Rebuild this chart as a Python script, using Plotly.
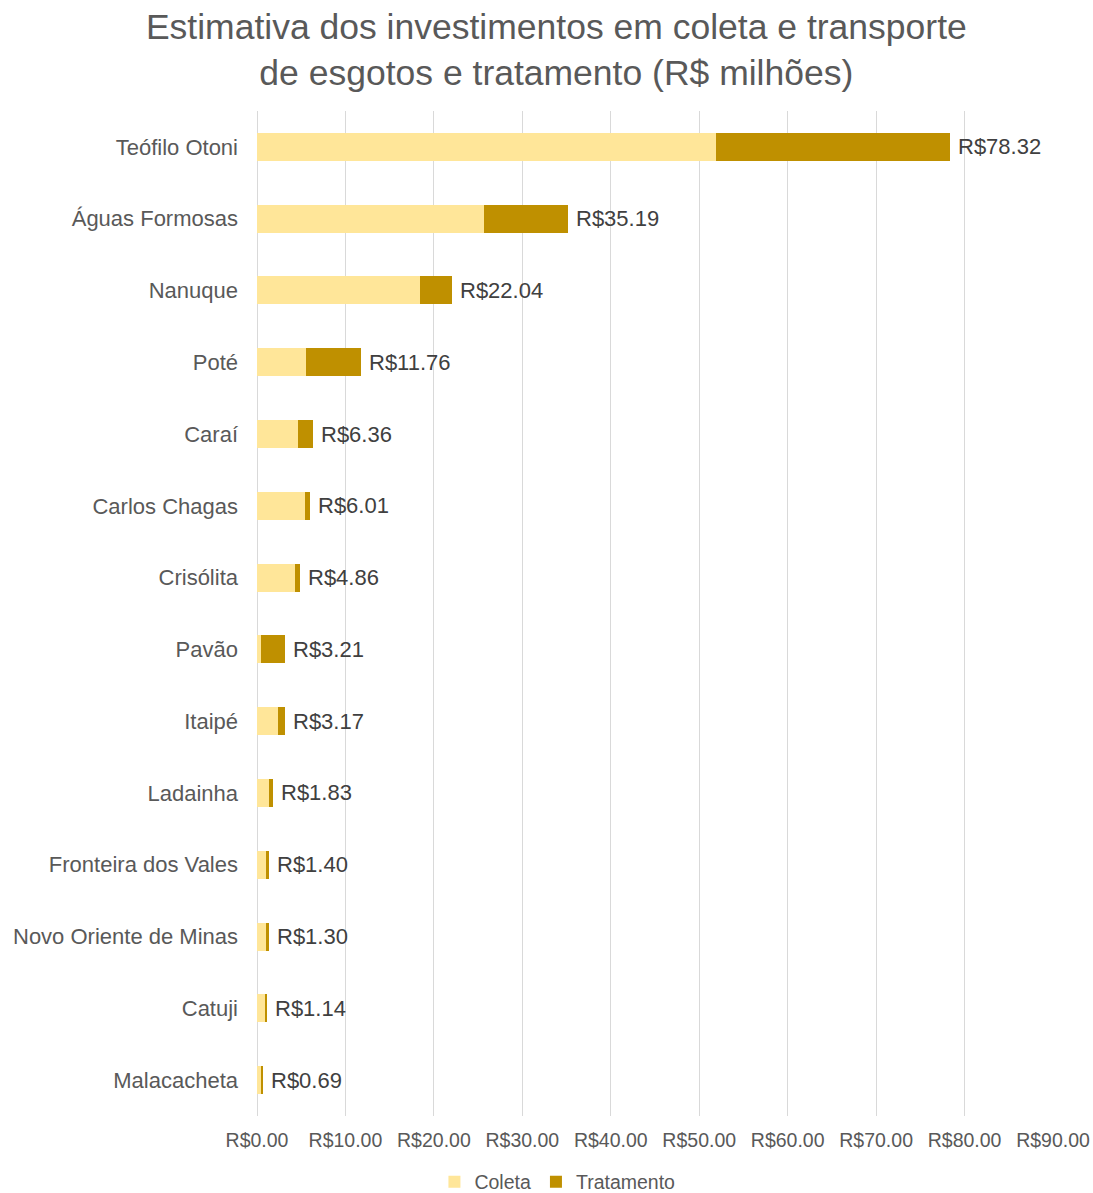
import plotly.graph_objects as go

# Municipalities and investment estimates (R$ millions)
municipios = [
    "Teófilo Otoni", "Águas Formosas", "Nanuque", "Poté", "Caraí",
    "Carlos Chagas", "Crisólita", "Pavão", "Itaipé", "Ladainha",
    "Fronteira dos Vales", "Novo Oriente de Minas", "Catuji", "Malacacheta",
]
coleta = [51.90, 25.65, 18.48, 5.55, 4.64, 5.40, 4.30, 0.42, 2.34, 1.32, 0.98, 1.10, 0.87, 0.44]
total = [78.32, 35.19, 22.04, 11.76, 6.36, 6.01, 4.86, 3.21, 3.17, 1.83, 1.40, 1.30, 1.14, 0.69]
tratamento = [round(t - c, 2) for t, c in zip(total, coleta)]

x_ticks = [0, 10, 20, 30, 40, 50, 60, 70, 80, 90]
x_ticktext = [f"R${v:.2f}" for v in x_ticks]

FONT = "Liberation Sans, Arial, sans-serif"
GRAY = "#595959"

fig = go.Figure()
fig.add_trace(go.Bar(
    y=municipios, x=coleta, name="Coleta", orientation="h",
    marker=dict(color="#FFE699", line=dict(width=0)), width=0.39,
))
fig.add_trace(go.Bar(
    y=municipios, x=tratamento, name="Tratamento", orientation="h",
    marker=dict(color="#BF9000", line=dict(width=0)), width=0.39,
))

# Total labels at the end of each stacked bar
for m, t in zip(municipios, total):
    fig.add_annotation(
        x=t, y=m, text=f"R${t:.2f}", showarrow=False,
        xanchor="left", yanchor="middle", xshift=6,
        font=dict(family=FONT, size=22, color="#404040"),
    )

fig.update_layout(
    barmode="stack",
    width=1093, height=1193,
    margin=dict(l=257, r=40, t=111, b=77, autoexpand=False),
    paper_bgcolor="white", plot_bgcolor="white",
    font=dict(family=FONT, color=GRAY),
    title=dict(
        text="Estimativa dos investimentos em coleta e transporte<br>de esgotos e tratamento (R$ milhões)",
        x=0.509, xref="container", xanchor="center",
        y=1 - 39 / 1193, yref="container", yanchor="top",
        font=dict(family=FONT, size=35.5, color=GRAY),
    ),
    xaxis=dict(
        range=[0, 90], tickvals=x_ticks, ticktext=x_ticktext,
        showgrid=True, gridcolor="#D9D9D9", gridwidth=1,
        zeroline=True, zerolinecolor="#D9D9D9", zerolinewidth=1,
        showline=False, automargin=False,
        tickfont=dict(family=FONT, size=19.5, color=GRAY),
        ticks="", ticklabelstandoff=10,
    ),
    yaxis=dict(
        autorange="reversed", showgrid=False, showline=False, automargin=False,
        tickfont=dict(family=FONT, size=22, color=GRAY),
        ticks="", ticklabelstandoff=18,
    ),
    legend=dict(
        orientation="h", xref="container", x=0.51, xanchor="center",
        yref="container", y=11 / 1193, yanchor="middle",
        font=dict(family=FONT, size=19.5, color=GRAY),
        itemwidth=30, traceorder="normal",
    ),
    showlegend=True,
)

fig.write_html("out.html")
